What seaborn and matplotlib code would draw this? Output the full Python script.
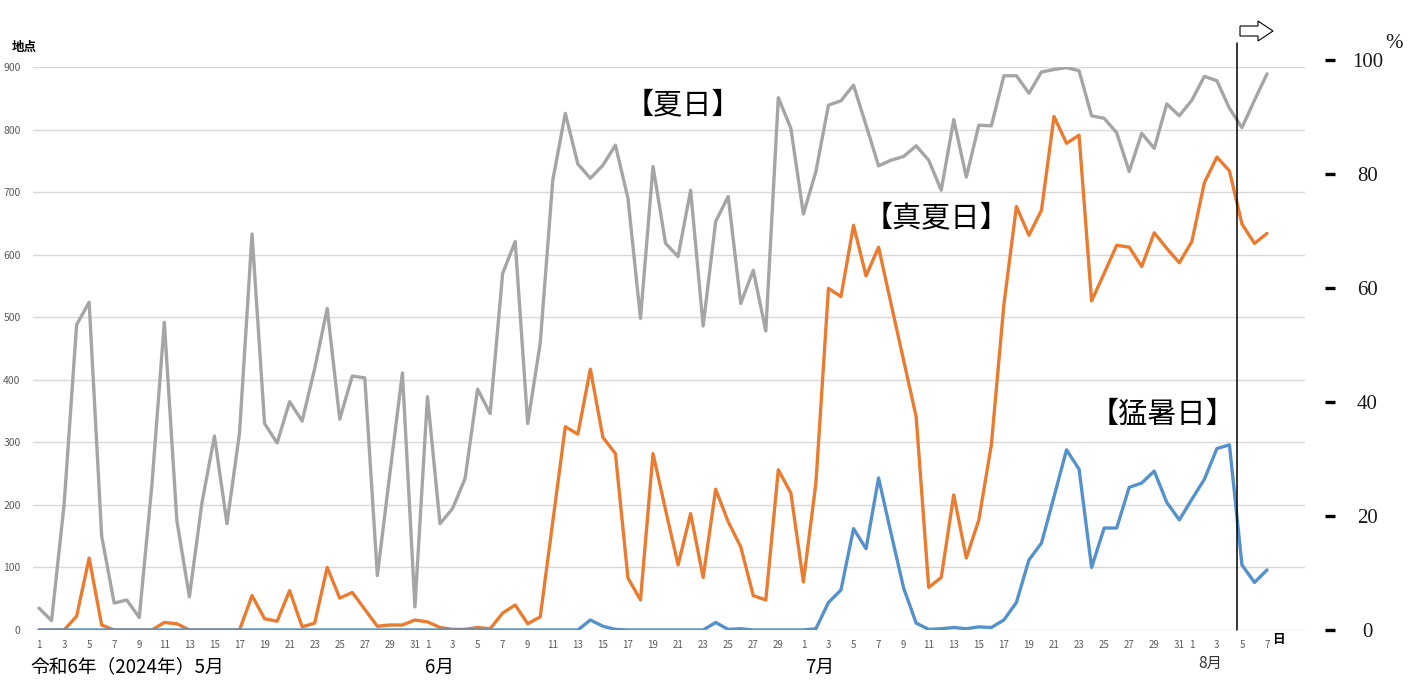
import numpy as np
import pandas as pd
import matplotlib
matplotlib.use("Agg")
import matplotlib.pyplot as plt
import seaborn as sns
from matplotlib.patches import FancyArrow

# ---------------- data ----------------
dates = pd.date_range("2024-05-01", "2024-08-07")

natsubi = [  # 夏日
    35, 15, 200, 488, 524, 150, 43, 48, 20, 230, 492, 175, 53, 203, 310, 170, 315, 633, 330, 299,
    365, 334, 418, 514, 337, 406, 403, 87, 250, 411, 37,
    373, 170, 194, 242, 385, 346, 570, 621, 330, 459, 719, 826, 745, 722, 743, 775, 690, 498, 741, 618,
    597, 703, 486, 653, 693, 522, 575, 478, 851, 802,
    665, 733, 839, 846, 871, 807, 742, 751, 757, 774, 751, 703, 816, 724, 807, 806, 886, 886, 858, 892,
    896, 899, 894, 822, 818, 795, 733, 794, 770, 841, 822,
    847, 885, 878, 834, 803, 847, 889,
]
manatsubi = [  # 真夏日
    0, 0, 0, 22, 115, 8, 0, 0, 0, 0, 12, 10, 0, 0, 0, 0, 0, 55, 18, 14,
    63, 5, 11, 100, 51, 60, 33, 6, 8, 8, 16,
    13, 4, 1, 1, 4, 2, 27, 40, 10, 21, 173, 325, 313, 417, 308, 282, 83, 48, 282, 192,
    104, 186, 84, 225, 173, 133, 55, 48, 256, 219,
    77, 235, 546, 533, 647, 566, 612, 521, 431, 341, 68, 84, 216, 115, 176, 296, 520, 677, 631, 671,
    821, 778, 791, 526, 570, 615, 612, 581, 635, 610, 587,
    621, 715, 756, 734, 649, 618, 634,
]
moshobi = [  # 猛暑日
    0, 0, 0, 0, 0, 0, 0, 0, 0, 0, 0, 0, 0, 0, 0, 0, 0, 0, 0, 0,
    0, 0, 0, 0, 0, 0, 0, 0, 0, 0, 0,
    0, 0, 0, 0, 0, 0, 0, 0, 0, 0, 0, 0, 0, 16, 6, 1, 0, 0, 0, 0,
    0, 0, 0, 12, 1, 2, 0, 0, 0, 0,
    0, 2, 44, 64, 162, 130, 243, 154, 67, 11, 1, 2, 4, 2, 5, 4, 16, 44, 112, 139,
    213, 288, 257, 100, 163, 163, 228, 235, 254, 204, 176,
    209, 241, 290, 296, 104, 76, 96,
]

series_names = ["夏日", "真夏日", "猛暑日"]
series_labels = ["【夏日】", "【真夏日】", "【猛暑日】"]
colors = ["#A5A5A5", "#E97C30", "#5592CB"]
y_ticks = list(range(0, 1000, 100))
pct_ticks = [0, 20, 40, 60, 80, 100]
month_labels = ["令和6年（2024年）5月", "6月", "7月", "8月"]

# ---------------- style ----------------
sns.set_theme(style="white")
plt.rcParams["font.family"] = ["Noto Sans CJK JP", "DejaVu Sans"]

W, H = 1412, 699
fig = plt.figure(figsize=(W / 100, H / 100), dpi=100)
fig.patch.set_facecolor("white")


def fx(px):
    return px / W


def fy(py):
    return 1 - py / H


ax = fig.add_axes([fx(33), fy(630), fx(1305) - fx(33), fy(67) - fy(630)])

n = len(dates)
df = pd.DataFrame({
    "idx": np.tile(np.arange(n), 3),
    "value": natsubi + manatsubi + moshobi,
    "series": np.repeat(series_names, n),
})
sns.lineplot(data=df, x="idx", y="value", hue="series", hue_order=series_names,
             palette=colors, linewidth=2.4, legend=False, ax=ax)

ax.set_xlim(-0.48, 101.03)
ax.set_ylim(0, 900)
ax.set_yticks(y_ticks)
ax.yaxis.grid(True, color="#D9D9D9", linewidth=1.0)
ax.xaxis.grid(False)
ax.set_axisbelow(True)
for s in ax.spines.values():
    s.set_visible(False)
ax.set_xlabel("")
ax.set_ylabel("")

tick_idx = [i for i, d in enumerate(dates) if d.day % 2 == 1]
ax.set_xticks(tick_idx, labels=[str(dates[i].day) for i in tick_idx])
ax.tick_params(axis="both", length=0, labelcolor="#595959")
ax.tick_params(axis="x", pad=7, labelsize=7)
ax.tick_params(axis="y", pad=9, labelsize=7.5)

# divider line near Aug 4/5
ax.axvline(95.6, ymin=0, ymax=(630 - 43) / 563, color="black", linewidth=1.1, clip_on=False)

# right-hand percent scale
axr = fig.add_axes([fx(1300), fy(630), fx(1325) - fx(1300), fy(60) - fy(630)])
axr.set_facecolor("none")
for s in axr.spines.values():
    s.set_visible(False)
axr.set_ylim(0, 100)
axr.set_xticks([])
axr.yaxis.tick_right()
axr.grid(False)
axr.set_yticks(pct_ticks, labels=[str(v) for v in pct_ticks],
               fontfamily="Liberation Serif", fontsize=15, ha="center")
axr.tick_params(axis="y", direction="out", length=7.5, width=2.4, color="black",
                pad=23, labelcolor="#1a1a1a")
fig.text(fx(1394), fy(43), "%", fontfamily="Liberation Serif", fontsize=15,
         ha="center", va="center", color="#1a1a1a")

# arrow at top
arrow = FancyArrow(12.40, (H - 31) / 100, 0.33, 0, width=0.10, head_width=0.20,
                   head_length=0.15, length_includes_head=True, fill=False,
                   edgecolor="black", linewidth=0.8, transform=fig.dpi_scale_trans)
fig.add_artist(arrow)

# series labels
fig.text(fx(683), fy(105), series_labels[0], fontsize=21, ha="center", va="center", color="black")
fig.text(fx(936), fy(218), series_labels[1], fontsize=21, ha="center", va="center", color="black")
fig.text(fx(1162), fy(415), series_labels[2], fontsize=21, ha="center", va="center", color="black")

# axis titles / month labels
fig.text(fx(12), fy(47), "地点", fontsize=9, fontweight="bold", ha="left", va="center", color="black")
fig.text(fx(1272), fy(639), "日", fontsize=9, fontweight="bold", ha="left", va="center", color="black")
fig.text(fx(30), fy(667), month_labels[0], fontsize=13.5, ha="left", va="center", color="black")
fig.text(fx(440), fy(667), month_labels[1], fontsize=13.5, ha="center", va="center", color="black")
fig.text(fx(820), fy(667), month_labels[2], fontsize=13.5, ha="center", va="center", color="black")
fig.text(fx(1210), fy(663), month_labels[3], fontsize=11, ha="center", va="center", color="#333333")

fig.savefig("out.png", dpi=100)
